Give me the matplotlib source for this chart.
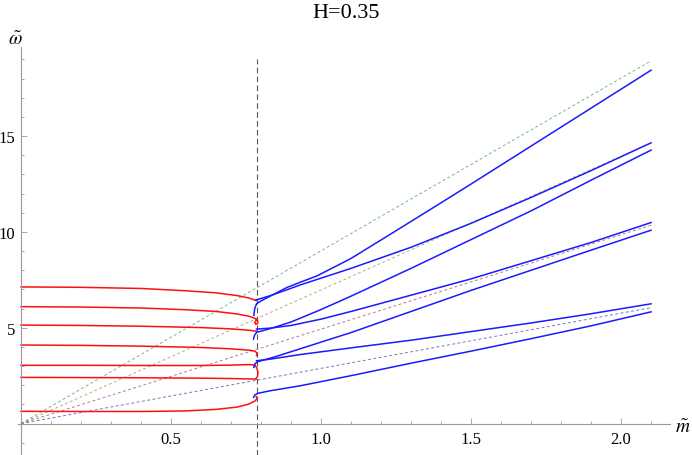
import matplotlib.pyplot as plt
from matplotlib.ticker import FixedLocator

plt.rcParams["mathtext.fontset"] = "stix"

# critical mass (vertical dashed line) and where the dashed guides stop
m_crit = 0.785
m_end = 2.1

# dashed guide lines through the origin, value reached at m_end
guide_ends = [6.05, 10.35, 14.65, 18.93]
guide_colors = ["#3f3d99", "#993d71", "#998b3d", "#3d9956"]

# red branches (m < m_crit)
red1_m = [0, 0.2, 0.4, 0.55, 0.65, 0.72, 0.76, 0.783]
red1_w = [7.13, 7.11, 7.05, 6.93, 6.82, 6.68, 6.55, 6.42]
red2_m = [0, 0.2, 0.4, 0.55, 0.65, 0.72, 0.76, 0.778, 0.788, 0.789, 0.782, 0.779, 0.784]
red2_w = [6.10, 6.08, 6.03, 5.94, 5.85, 5.72, 5.60, 5.50, 5.40, 5.22, 5.18, 5.30, 5.38]
red3_m = [0, 0.2, 0.4, 0.6, 0.7, 0.76, 0.785]
red3_w = [5.14, 5.12, 5.08, 5.01, 4.94, 4.87, 4.82]
red4_m = [0, 0.2, 0.4, 0.6, 0.7, 0.76, 0.78, 0.787, 0.785]
red4_w = [4.10, 4.08, 4.04, 3.97, 3.90, 3.83, 3.78, 3.66, 3.55]
red5_m = [0, 0.2, 0.4, 0.6, 0.7, 0.76, 0.78, 0.786, 0.79, 0.788, 0.783]
red5_w = [3.04, 3.04, 3.03, 3.03, 3.05, 3.08, 3.05, 2.90, 2.65, 2.45, 2.35]
red6_m = [0, 0.2, 0.4, 0.6, 0.7, 0.76, 0.783]
red6_w = [2.41, 2.40, 2.39, 2.37, 2.35, 2.33, 2.32]
red7_m = [0, 0.2, 0.4, 0.55, 0.65, 0.72, 0.76, 0.78, 0.787, 0.784]
red7_w = [0.64, 0.63, 0.63, 0.66, 0.74, 0.86, 1.02, 1.18, 1.32, 1.40]

# blue branches (m > m_crit)
blueA_m = [0.776, 0.779, 0.785, 0.8, 0.886, 0.93, 0.987, 1.097, 1.2, 1.3, 1.4, 1.5, 1.8, 2.1]
blueA_w = [5.65, 6.0, 6.25, 6.4, 7.1, 7.37, 7.71, 8.59, 9.58, 10.55, 11.52, 12.5, 15.47, 18.44]
blueB_m = [0.783, 0.83, 0.886, 0.93, 1.1, 1.3, 1.5, 1.7, 1.9, 2.1]
blueB_w = [6.45, 6.67, 6.98, 7.23, 8.1, 9.2, 10.45, 11.8, 13.2, 14.65]
blueC_m = [0.775, 0.778, 0.785, 0.83, 0.9, 1.0, 1.1, 1.3, 1.5, 1.7, 1.9, 2.1]
blueC_w = [4.41, 4.6, 4.76, 4.95, 5.3, 5.95, 6.65, 8.1, 9.6, 11.1, 12.7, 14.27]
blueD_m = [0.785, 0.83, 0.9, 1.0, 1.1, 1.3, 1.5, 1.7, 1.9, 2.1]
blueD_w = [4.93, 4.98, 5.12, 5.45, 5.85, 6.7, 7.55, 8.5, 9.45, 10.49]
blueE_m = [0.776, 0.779, 0.787, 0.85, 0.93, 1.0, 1.1, 1.3, 1.5, 1.7, 1.9, 2.1]
blueE_w = [2.93, 3.1, 3.22, 3.5, 3.9, 4.25, 4.75, 5.85, 6.95, 8.0, 9.05, 10.09]
blueF_m = [0.785, 0.83, 0.93, 1.1, 1.3, 1.5, 1.7, 1.9, 2.1]
blueF_w = [3.28, 3.36, 3.6, 3.95, 4.35, 4.8, 5.25, 5.73, 6.25]
blueG_m = [0.775, 0.78, 0.79, 0.83, 0.93, 1.1, 1.3, 1.5, 1.7, 1.9, 2.1]
blueG_w = [1.37, 1.5, 1.58, 1.71, 1.97, 2.5, 3.15, 3.78, 4.43, 5.1, 5.83]

reds = [(red1_m, red1_w), (red2_m, red2_w), (red3_m, red3_w), (red4_m, red4_w),
        (red5_m, red5_w), (red6_m, red6_w), (red7_m, red7_w)]
blues = [(blueA_m, blueA_w), (blueB_m, blueB_w), (blueC_m, blueC_w), (blueD_m, blueD_w),
         (blueE_m, blueE_w), (blueF_m, blueF_w), (blueG_m, blueG_w)]

XLIM = (-0.01, 2.163)
YLIM = (-1.64, 19.65)
SERIF = "Liberation Serif"

fig = plt.figure(figsize=(6.92, 4.56), dpi=100)
ax = fig.add_axes([18 / 692, 0, 652 / 692, 408 / 456])
ax.set_xlim(*XLIM)
ax.set_ylim(*YLIM)

# guides
for end, col in zip(guide_ends, guide_colors):
    ax.plot([0, m_end], [0, end], color=col, lw=0.7, alpha=0.7,
            linestyle=(0, (3, 2.5)), zorder=1)

vtop = (19.0 - YLIM[0]) / (YLIM[1] - YLIM[0])
ax.axvline(m_crit, ymin=0, ymax=vtop, color="#555555", lw=0.8,
           linestyle=(0, (5, 3)), zorder=1)

for m, w in reds:
    ax.plot(m, w, color="#ff1010", lw=1.1, zorder=2)
for m, w in blues:
    ax.plot(m, w, color="#1a1aff", lw=1.1, zorder=3)

# Mathematica-style axes crossing at the origin
for side in ["top", "right"]:
    ax.spines[side].set_visible(False)
ax.spines["left"].set_position(("data", 0))
ax.spines["bottom"].set_position(("data", 0))
for side in ["left", "bottom"]:
    ax.spines[side].set_color("#9a9a9a")
    ax.spines[side].set_linewidth(0.8)

ax.xaxis.set_major_locator(FixedLocator([0.5, 1.0, 1.5, 2.0]))
ax.xaxis.set_minor_locator(FixedLocator([i / 10 for i in range(1, 22) if i % 5]))
ax.yaxis.set_major_locator(FixedLocator([5, 10, 15]))
ax.yaxis.set_minor_locator(FixedLocator([i for i in range(-1, 20) if i % 5]))
ax.set_xticklabels(["0.5", "1.0", "1.5", "2.0"])
ax.set_yticklabels(["5", "10", "15"])

ax.tick_params(which="both", direction="in", color="#9a9a9a", width=0.6,
               labelsize=12, labelcolor="black")
ax.tick_params(which="major", length=4)
ax.tick_params(which="minor", length=2.2)
ax.tick_params(axis="x", pad=5)
ax.tick_params(axis="y", pad=4)
for lab in ax.get_xticklabels() + ax.get_yticklabels():
    lab.set_fontfamily(SERIF)

ax.text(2.207, -0.15, r"$\tilde{m}$", fontsize=14, ha="center", va="center", clip_on=False)
ax.text(-0.02, 20.1, r"$\tilde{\omega}$", fontsize=14, ha="center", va="center", clip_on=False)

fig.text(346 / 692, 1 - 13 / 456, "H=0.35", ha="center", va="center",
         fontsize=16, family=SERIF)

fig.savefig("out.png", dpi=100)
